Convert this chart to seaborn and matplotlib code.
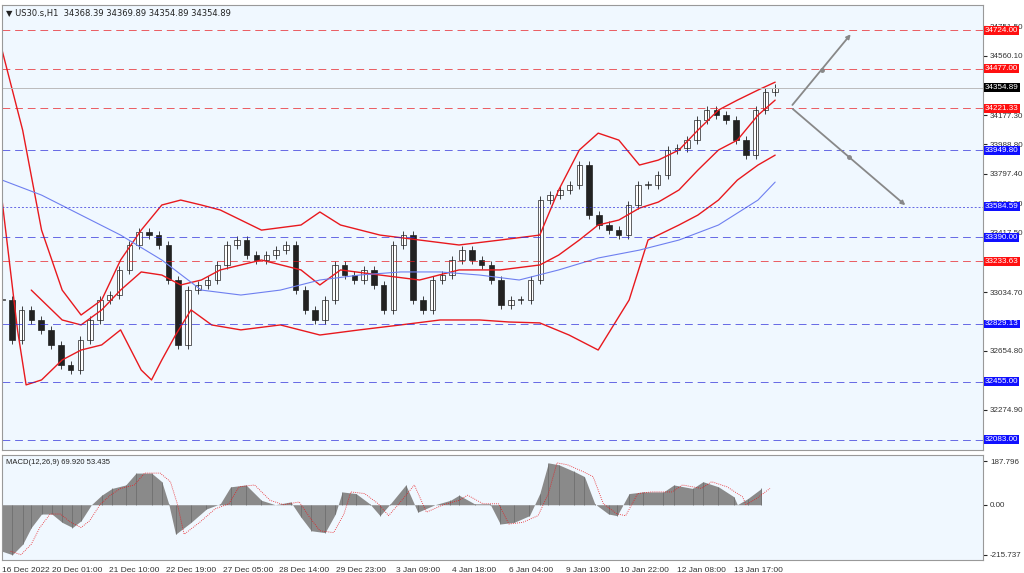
import matplotlib
matplotlib.use("Agg")
import matplotlib.pyplot as plt
import numpy as np
import seaborn as sns

sns.set_style("white")
plt.rcParams['font.family'] = ['Liberation Sans Narrow', 'Liberation Sans', 'DejaVu Sans']
plt.rcParams['font.size'] = 6

closes = [32984, 32726, 32920, 32855, 32791, 32694, 32565, 32533, 32726, 32855,
          32984, 33016, 33178, 33339, 33423, 33403, 33339, 33113, 32694, 33048,
          33081, 33113, 33210, 33339, 33371, 33274, 33242, 33274, 33306, 33339,
          33048, 32920, 32855, 32984, 33210, 33145, 33113, 33178, 33081, 32920,
          33339, 33403, 32984, 32920, 33113, 33145, 33242, 33306, 33242, 33210,
          33113, 32952, 32984, 32984, 33113, 33629, 33661, 33693, 33726, 33855,
          33532, 33468, 33435, 33403, 33597, 33726, 33726, 33790, 33952, 33964,
          34016, 34145, 34210, 34177, 34145, 34016, 33919, 34210, 34326, 34355]

band_upper_x = [0, 12, 23, 35, 46, 58, 69, 81, 93, 104, 116, 127, 151, 174, 185, 197, 220, 243,
                266, 290, 313, 324, 336, 347, 359, 371, 382, 394, 405, 417, 428, 440, 450]
band_upper = [34597, 34080, 33435, 33048, 32887, 32984, 33242, 33435, 33597, 33629, 33597, 33565,
              33435, 33468, 33552, 33468, 33403, 33371, 33339, 33371, 33403, 33694, 33952, 34061,
              34016, 33855, 33887, 33952, 34080, 34210, 34274, 34339, 34390]
band_mid_x = [17, 35, 46, 58, 69, 81, 93, 104, 116, 127, 151, 174, 185, 197, 220, 243, 266, 290,
              313, 324, 336, 347, 359, 371, 382, 394, 405, 417, 428, 440, 450]
band_mid = [33048, 32855, 32823, 32920, 33048, 33165, 33145, 33081, 33113, 33178, 33242, 33178,
            33081, 33178, 33145, 33113, 33178, 33178, 33210, 33274, 33371, 33468, 33500, 33577,
            33616, 33694, 33822, 33952, 34016, 34177, 34274]
band_lower_x = [0, 9, 14, 23, 35, 46, 58, 69, 81, 87, 93, 101, 110, 122, 139, 162, 185, 208,
                232, 255, 278, 295, 313, 330, 347, 365, 376, 394, 405, 417, 428, 440, 450]
band_lower = [33629, 32790, 32436, 32468, 32597, 32661, 32694, 32791, 32532, 32468, 32597, 32758,
              32920, 32823, 32791, 32823, 32758, 32791, 32823, 32855, 32855, 32842, 32836, 32758,
              32661, 32984, 33371, 33468, 33532, 33629, 33758, 33855, 33919]
ma_x = [0, 23, 46, 69, 93, 116, 139, 162, 185, 208, 232, 255, 278, 301, 324, 347, 371, 394, 417, 440, 450]
ma = [33758, 33661, 33532, 33403, 33242, 33048, 33016, 33048, 33113, 33145, 33165, 33165, 33145,
      33113, 33178, 33255, 33306, 33371, 33468, 33629, 33745]

levels = [34724.00, 34477.00, 34221.33, 33949.80, 33584.59, 33390.00, 33233.63, 32829.13, 32455.00, 32083.00]
level_kind = ['r', 'r', 'r', 'b', 'bd', 'b', 'r', 'b', 'b', 'b']
last_price = 34354.89
price_ticks = [34751.50, 34560.10, 34177.30, 33988.80, 33797.40, 33606.00, 33417.50,
               33034.70, 32654.80, 32274.90]

macd_x = [0, 6, 12, 17, 23, 29, 35, 41, 46, 52, 58, 64, 72, 78, 87, 93, 97, 101, 110, 119, 127,
          133, 142, 151, 159, 168, 174, 180, 188, 194, 198, 206, 214, 220, 226, 235, 242, 252,
          261, 266, 275, 284, 290, 298, 307, 313, 318, 324, 333, 339, 345, 353, 358, 365, 373,
          385, 391, 402, 408, 417, 426, 428, 434, 442]
macd = [-200, -215, -170, -98, -40, -40, -76, -98, -69, 0, 41, 70, 85, 136, 136, 99, 4, -127, -76,
        -18, 4, 77, 85, 19, 0, 12, -54, -112, -120, -40, 55, 48, 4, -47, 4, 85, -32, 0, 19, 41, 4,
        4, -83, -76, -47, 48, 180, 172, 143, 121, 4, -40, -47, 48, 55, 55, 85, 70, 99, 77, 34, 0,
        26, 70]

tick_hours = [0, 44, 77, 110, 143, 176, 209, 242, 275, 308, 341, 374, 407, 440]
tick_labels = ['16 Dec 2022', '20 Dec 01:00', '21 Dec 10:00', '22 Dec 19:00', '27 Dec 05:00',
               '28 Dec 14:00', '29 Dec 23:00', '3 Jan 09:00', '4 Jan 18:00', '6 Jan 04:00',
               '9 Jan 13:00', '10 Jan 22:00', '12 Jan 08:00', '13 Jan 17:00']

bg = '#f0f8ff'
fig = plt.figure(figsize=(10.24, 5.73), dpi=100, facecolor='white')
ax = fig.add_axes([0.002, 0.215, 0.958, 0.776], facecolor=bg)
axm = fig.add_axes([0.002, 0.023, 0.958, 0.183], facecolor=bg, sharex=ax)

# candles
cx = np.linspace(0, 450, len(closes))
opens = [closes[0]] + closes[:-1]
for x, o, c in zip(cx, opens, closes):
    lo, hi = min(o, c), max(o, c)
    ax.vlines(x, lo - 25, hi + 25, color='#222222', linewidth=0.6)
    ax.bar(x, max(hi - lo, 4), bottom=lo, width=3.2,
           color='white' if c >= o else '#222222', edgecolor='#222222', linewidth=0.5)

sns.lineplot(x=band_upper_x, y=band_upper, ax=ax, color='#e8191e', linewidth=1)
sns.lineplot(x=band_mid_x, y=band_mid, ax=ax, color='#e8191e', linewidth=1)
sns.lineplot(x=band_lower_x, y=band_lower, ax=ax, color='#e8191e', linewidth=1)
sns.lineplot(x=ma_x, y=ma, ax=ax, color='#6e7ff0', linewidth=0.8)

for lv, k in zip(levels, level_kind):
    col = '#e8191e' if k == 'r' else '#2b2bd9'
    ls = (0, (2, 2)) if k == 'bd' else (0, (8, 5))
    ax.axhline(lv, color=col, linestyle=ls, linewidth=0.7, alpha=0.7)
    ax.text(1.002, lv, f'{lv:.2f}', transform=ax.get_yaxis_transform(), va='center', ha='left',
            fontsize=5.8, color='white', zorder=5,
            bbox=dict(boxstyle='square,pad=0.12', facecolor='#ff1010' if k == 'r' else '#1010ff',
                      edgecolor='none'))
ax.axhline(last_price, color='#bbbbbb', linewidth=0.7)
ax.text(1.002, last_price, f'{last_price:.2f}', transform=ax.get_yaxis_transform(), va='center',
        ha='left', fontsize=5.8, color='white', zorder=5,
        bbox=dict(boxstyle='square,pad=0.12', facecolor='black', edgecolor='none'))

# forecast arrows
for end in [(495, 34713), (527, 33584)]:
    ax.annotate('', xy=end, xytext=(459, 34229),
                arrowprops=dict(arrowstyle='-|>', color='#888888', lw=1.3))
    ax.plot((459 + end[0]) / 2, (34229 + end[1]) / 2, 'o', color='#888888', markersize=2.5)

ax.set_ylim(32017, 34887)
ax.set_xlim(0, 571)
ax.yaxis.tick_right()
ax.set_yticks(price_ticks)
ax.set_yticklabels([f'{t:.2f}' for t in price_ticks], color='#333333')
ax.tick_params(axis='y', length=3, pad=2, labelsize=5.8)
ax.tick_params(axis='x', bottom=False, labelbottom=False)
ax.text(0.004, 0.992, '▼ US30.s,H1  34368.39 34369.89 34354.89 34354.89', transform=ax.transAxes,
        fontsize=6, va='top', color='#222222', family=['DejaVu Sans'])

# MACD
axm.fill_between(macd_x, macd, 0, color='#8a8a8a', linewidth=0)
axm.vlines(macd_x, 0, macd, color='#6a6a6a', linewidth=0.5)
sns.lineplot(x=np.array(macd_x) + 5, y=macd, ax=axm, color='#e8191e', linewidth=0.6,
             linestyle=(0, (1, 1.5)))
axm.set_ylim(-237, 214)
axm.yaxis.tick_right()
axm.set_yticks([187.796, 0, -215.737])
axm.set_yticklabels(['187.796', '0.00', '-215.737'], color='#333333')
axm.tick_params(axis='y', length=3, pad=2, labelsize=5.8)
axm.set_xticks(tick_hours)
axm.set_xticklabels(tick_labels, color='#333333')
axm.tick_params(axis='x', length=3, pad=2, labelsize=6)
axm.get_xticklabels()[0].set_horizontalalignment('left')
axm.text(0.004, 0.96, 'MACD(12,26,9) 69.920 53.435', transform=axm.transAxes, fontsize=5.5,
         va='top', color='#222222')

for a in (ax, axm):
    for s in a.spines.values():
        s.set_color('#999999')
        s.set_linewidth(0.8)

fig.savefig('out.png', dpi=100)
